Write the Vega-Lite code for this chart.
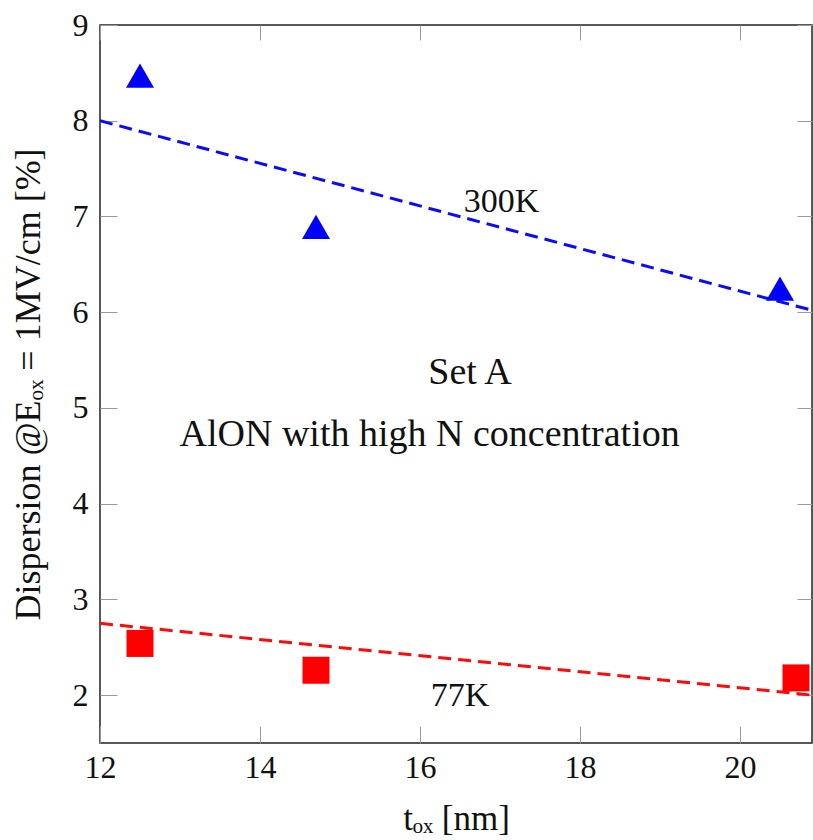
{
  "$schema": "https://vega.github.io/schema/vega-lite/v6.json",
  "width": 712,
  "height": 718,
  "autosize": {"type": "none"},
  "padding": {"left": 100, "top": 25, "right": 1, "bottom": 97},
  "background": "white",
  "config": {
    "view": {"stroke": "#222222", "strokeWidth": 1.5},
    "font": "Liberation Serif",
    "axis": {"grid": false, "domain": false, "labelFlush": false, "labelOverlap": false, "tickColor": "#9a9a9a", "tickWidth": 1, "labelFont": "Liberation Serif", "titleFont": "Liberation Serif", "labelColor": "#111111", "titleColor": "#111111", "labelFontSize": 32, "titleFontSize": 32, "titleFontWeight": "normal"}
  },
  "datasets": {
    "fits": [
      {"series": "300K", "x": 12, "y": 8.0},
      {"series": "300K", "x": 20.9, "y": 6.02},
      {"series": "77K", "x": 12, "y": 2.75},
      {"series": "77K", "x": 20.9, "y": 2.0}
    ],
    "points": [
      {"series": "300K", "x": 12.5, "y": 8.47},
      {"series": "300K", "x": 14.7, "y": 6.89},
      {"series": "300K", "x": 20.5, "y": 6.245},
      {"series": "77K", "x": 12.5, "y": 2.54},
      {"series": "77K", "x": 14.7, "y": 2.26},
      {"series": "77K", "x": 20.7, "y": 2.18}
    ],
    "labels": [
      {"x": 17.02, "y": 7.05, "text": "300K", "group": "temp"},
      {"x": 16.625, "y": 5.245, "text": "Set  A", "group": "note"},
      {"x": 16.12, "y": 4.6, "text": "AlON with high N concentration", "group": "note"},
      {"x": 16.5, "y": 1.89, "text": "77K", "group": "temp"}
    ]
  },
  "layer": [
    {
      "data": {"name": "fits"},
      "mark": {"type": "line", "strokeDash": [13, 7], "strokeWidth": 3, "clip": true},
      "encoding": {
        "x": {"field": "x", "type": "quantitative", "scale": {"domain": [12, 20.9], "nice": false, "zero": false},
              "axis": {"orient": "bottom", "values": [12, 14, 16, 18, 20], "format": "d", "tickSize": -17, "labelPadding": 26, "title": "tₒₓ  [nm]", "titleFontSize": 35, "titlePadding": 18}},
        "y": {"field": "y", "type": "quantitative", "scale": {"domain": [1.5, 9], "nice": false, "zero": false},
              "axis": {"orient": "left", "values": [2, 3, 4, 5, 6, 7, 8, 9], "format": "d", "tickSize": -17, "labelPadding": 29, "title": "Dispersion @Eₒₓ = 1MV/cm [%]", "titleFontSize": 36, "titlePadding": 25}},
        "color": {"field": "series", "type": "nominal", "scale": {"domain": ["300K", "77K"], "range": ["#0a0aff", "#ff0a0a"]}, "legend": null},
        "detail": {"field": "series"}
      }
    },
    {
      "data": {"name": "points"},
      "transform": [{"filter": "datum.series === '300K'"}],
      "mark": {"type": "point", "shape": "triangle-up", "filled": true, "size": 784, "opacity": 1, "color": "#0000ff", "clip": true},
      "encoding": {
        "x": {"field": "x", "type": "quantitative", "axis": {"orient": "top", "values": [12, 14, 16, 18, 20], "tickSize": -15, "labels": false, "title": null}},
        "y": {"field": "y", "type": "quantitative", "axis": {"orient": "right", "values": [2, 3, 4, 5, 6, 7, 8, 9], "tickSize": -15, "labels": false, "title": null}}
      }
    },
    {
      "data": {"name": "points"},
      "transform": [{"filter": "datum.series === '77K'"}],
      "mark": {"type": "point", "shape": "square", "filled": true, "size": 729, "opacity": 1, "color": "#ff0000", "clip": true},
      "encoding": {
        "x": {"field": "x", "type": "quantitative", "axis": null},
        "y": {"field": "y", "type": "quantitative", "axis": null}
      }
    },
    {
      "data": {"name": "labels"},
      "transform": [{"filter": "datum.group === 'temp'"}],
      "mark": {"type": "text", "font": "Liberation Serif", "fontSize": 34, "baseline": "alphabetic", "align": "center", "color": "#111111"},
      "encoding": {
        "x": {"field": "x", "type": "quantitative", "axis": null},
        "y": {"field": "y", "type": "quantitative", "axis": null},
        "text": {"field": "text"}
      }
    },
    {
      "data": {"name": "labels"},
      "transform": [{"filter": "datum.group === 'note'"}],
      "mark": {"type": "text", "font": "Liberation Serif", "fontSize": 38, "baseline": "alphabetic", "align": "center", "color": "#111111"},
      "encoding": {
        "x": {"field": "x", "type": "quantitative", "axis": null},
        "y": {"field": "y", "type": "quantitative", "axis": null},
        "text": {"field": "text"}
      }
    }
  ]
}
